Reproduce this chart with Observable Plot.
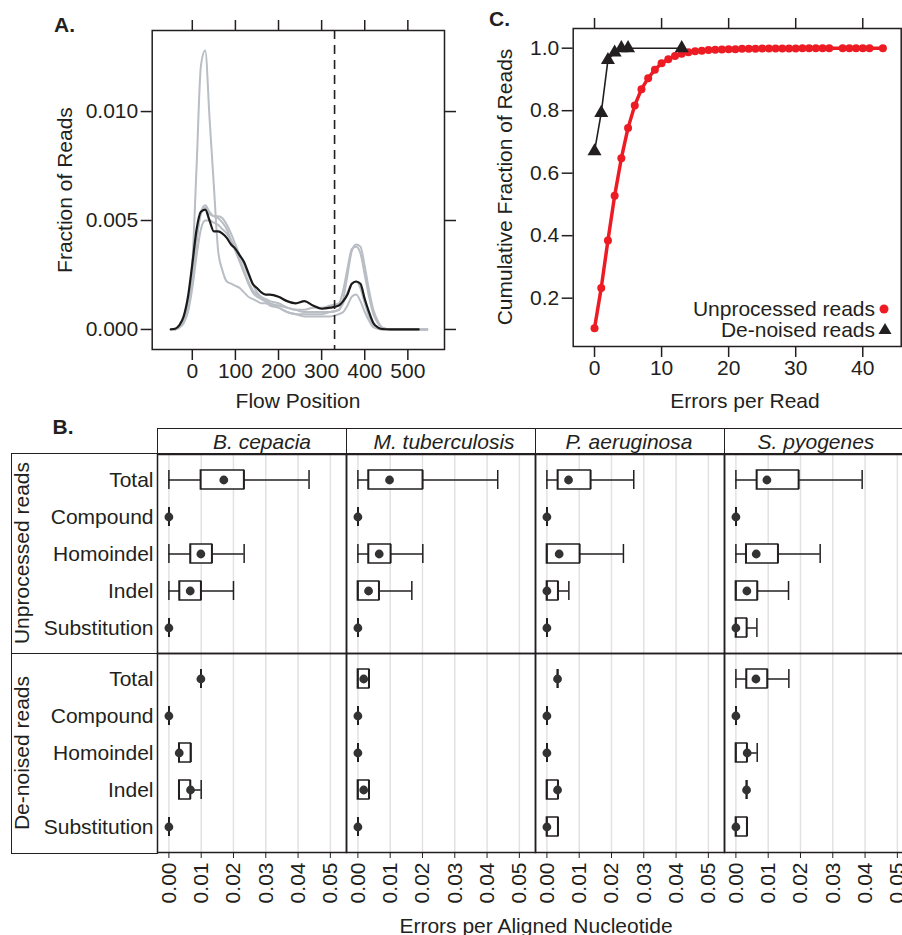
<!DOCTYPE html>
<html><head><meta charset="utf-8">
<script src="https://cdn.jsdelivr.net/npm/d3@7"></script>
<script src="https://cdn.jsdelivr.net/npm/@observablehq/plot@0.6"></script>
<style>
body{margin:0;background:#fff;}
#fig{position:relative;width:902px;height:935px;overflow:hidden;font-family:"Liberation Sans",Arial,sans-serif;color:#231f20;background:#fff;}
.pl{position:absolute;}
.t{position:absolute;font-size:21px;line-height:1;white-space:nowrap;}
.box{position:absolute;box-sizing:border-box;border:1.5px solid #231f20;}
</style>
</head><body><div id="fig"></div>
<script>
// ---------- Panel A data: fraction of reads by flow position ----------
const flowPos = [-50,-40,-30,-20,-10,0,10,20,30,40,50,60,70,80,90,100,110,120,130,140,150,160,170,180,200,220,240,260,280,300,320,340,350,360,370,380,390,400,410,420,430,440,460,500,525,545];
const fracBlack = [0,0.00003,0.0002,0.0006,0.0015,0.0030,0.0046,0.0054,0.0055,0.0050,0.0045,0.0045,0.0044,0.0042,0.0039,0.0037,0.0034,0.0031,0.0026,0.0021,0.0019,0.0017,0.0016,0.0016,0.0015,0.0013,0.0012,0.0013,0.0011,0.00095,0.0010,0.0011,0.0013,0.0016,0.0021,0.0022,0.0021,0.0014,0.0008,0.0003,0.0001,0.00002,0,0,0,NaN];
const fracGray1 = [NaN,0,0.0001,0.0004,0.0012,0.0030,0.0075,0.0121,0.0128,0.0097,0.0066,0.0036,0.0027,0.0022,0.0021,0.0020,0.0019,0.0017,0.0015,0.0014,0.0013,0.0012,0.0012,0.0011,0.0010,0.0008,0.0007,0.0006,0.0006,0.0006,0.0006,0.0007,0.0008,0.0011,0.0015,0.0016,0.0013,0.0008,0.0004,0.0001,0.00003,0,0,0,0,0];
const fracGray2 = [NaN,0,0.0001,0.0003,0.0009,0.0022,0.0040,0.0054,0.0057,0.0054,0.0052,0.0052,0.0051,0.0048,0.0044,0.0039,0.0034,0.0030,0.0025,0.0021,0.0017,0.0015,0.0014,0.0013,0.0012,0.0010,0.0009,0.0008,0.0008,0.0008,0.0008,0.0009,0.0014,0.0025,0.0036,0.0039,0.0038,0.0029,0.0018,0.0009,0.0004,0.0001,0,0,0,0];
const fracGray3 = [NaN,0,0.0001,0.0004,0.0010,0.0024,0.0042,0.0053,0.0056,0.0053,0.0052,0.0051,0.0049,0.0046,0.0041,0.0036,0.0031,0.0026,0.0021,0.0017,0.0015,0.0014,0.0013,0.0012,0.0011,0.0010,0.0009,0.0009,0.0010,0.0010,0.0011,0.0012,0.0018,0.0028,0.0037,0.0038,0.0035,0.0025,0.0015,0.0007,0.0003,0.0001,0,0,0,0];
const fracGray4 = [NaN,0,0.0001,0.0003,0.0008,0.0019,0.0034,0.0046,0.0050,0.0050,0.0049,0.0048,0.0046,0.0044,0.0041,0.0037,0.0032,0.0027,0.0022,0.0018,0.0016,0.0014,0.0013,0.0012,0.0010,0.0008,0.0007,0.0007,0.0007,0.0007,0.0008,0.0009,0.0012,0.0017,0.0021,0.0022,0.0019,0.0012,0.0006,0.0002,0.0001,0,0,0,0,0];
const flowCutoff = 330;
const flowTicks = [0,100,200,300,400,500];
const fracTicks = [0,0.005,0.010];

// ---------- Panel C data: cumulative fraction of reads ----------
const errorsUnproc = [0,1,2,3,4,5,6,7,8,9,10,11,12,13,14,15,16,17,18,19,20,21,22,23,24,25,26,27,28,29,30,31,32,33,34,35,37,38,39,40,41,43];
const cumUnproc = [0.104,0.233,0.385,0.528,0.648,0.745,0.817,0.869,0.904,0.931,0.952,0.965,0.975,0.982,0.987,0.990,0.992,0.994,0.995,0.996,0.997,0.997,0.998,0.998,0.998,0.999,0.999,0.999,0.999,0.999,0.999,1,1,1,1,1,1,1,1,1,1,1];
const errorsDenoised = [0,1,2,3,4,5,13];
const cumDenoised = [0.670,0.793,0.962,0.986,1.0,1.0,1.0];
const errorTicksC = [0,10,20,30,40];
const cumTicks = [0.2,0.4,0.6,0.8,1.0];

// ---------- Panel B data: errors per aligned nucleotide ----------
const species = ["B. cepacia","M. tuberculosis","P. aeruginosa","S. pyogenes"];
const readTypes = ["Unprocessed reads","De-noised reads"];
const errorTypes = ["Total","Compound","Homoindel","Indel","Substitution"];
// rows follow errorTypes; each is [lower whisker, Q1, median, Q3, upper whisker]
const unprocBCep = [[0,0.0099,0.0170,0.0233,0.0434],[0,0,0,0,0],[0,0.0067,0.0099,0.0134,0.0233],[0,0.0033,0.0066,0.0100,0.0200],[0,0,0,0,0]];
const unprocMTub = [[0,0.0033,0.0098,0.0201,0.0433],[0,0,0,0,0],[0,0.0033,0.0066,0.0102,0.0201],[0,0,0.0033,0.0066,0.0167],[0,0,0,0,0]];
const unprocPAer = [[0,0.0034,0.0067,0.0136,0.0269],[0,0,0,0,0],[0,0,0.0038,0.0102,0.0237],[0,0,0,0.0035,0.0068],[0,0,0,0,0]];
const unprocSPyo = [[0,0.0065,0.0096,0.0195,0.0391],[0,0,0,0,0],[0,0.0032,0.0063,0.0131,0.0261],[0,0,0.0034,0.0067,0.0163],[0,0,0,0.0034,0.0065]];
const denoisBCep = [[0.0099,0.0099,0.0099,0.0099,0.0099],[0,0,0,0,0],[0.0032,0.0032,0.0032,0.0068,0.0068],[0.0032,0.0032,0.0067,0.0067,0.0100],[0,0,0,0,0]];
const denoisMTub = [[0,0,0.0018,0.0035,0.0035],[0,0,0,0,0],[0,0,0,0,0],[0,0,0.0018,0.0035,0.0035],[0,0,0,0,0]];
const denoisPAer = [[0.0033,0.0033,0.0033,0.0033,0.0033],[0,0,0,0,0],[0,0,0,0,0],[0,0,0.0033,0.0035,0.0035],[0,0,0,0.0035,0.0035]];
const denoisSPyo = [[0,0.0033,0.0062,0.0098,0.0164],[0,0,0,0,0],[0,0,0.0035,0.0035,0.0066],[0.0033,0.0033,0.0033,0.0033,0.0033],[0,0,0,0.0035,0.0035]];
const nucTicks = [0,0.01,0.02,0.03,0.04,0.05];

// ---------- build tables ----------
const seriesA = [["g1",fracGray1],["g2",fracGray2],["g3",fracGray3],["g4",fracGray4]];
const grayRows = seriesA.flatMap(([s, arr]) => flowPos.map((p, i) => ({series: s, pos: p, frac: arr[i]})));
const blackRows = flowPos.map((p, i) => ({pos: p, frac: fracBlack[i]}));
const unprocRows = errorsUnproc.map((e, i) => ({e, c: cumUnproc[i]}));
const denoisRows = errorsDenoised.map((e, i) => ({e, c: cumDenoised[i]}));
const statsTable = [[unprocBCep, unprocMTub, unprocPAer, unprocSPyo],[denoisBCep, denoisMTub, denoisPAer, denoisSPyo]];
const boxRows = [];
readTypes.forEach((rt, ri) => species.forEach((sp, si) => errorTypes.forEach((et, ei) => {
  const [lo, q1, med, q3, hi] = statsTable[ri][si][ei];
  boxRows.push({read: rt, species: sp, etype: et, lo, q1, med, q3, hi});
})));

const INK = "#231f20";
const baseStyle = {background: "transparent", overflow: "visible", fontSize: "21px", fontFamily: "'Liberation Sans', Arial, sans-serif", color: INK, maxWidth: "none"};
const fig = document.getElementById("fig");
function place(el, left, top) { const d = document.createElement("div"); d.className = "pl"; d.style.left = left + "px"; d.style.top = top + "px"; d.appendChild(el); fig.appendChild(d); }
function text(str, x, y, opts = {}) {
  const d = document.createElement("div"); d.className = "t"; d.textContent = str;
  d.style.left = x + "px"; d.style.top = y + "px";
  const tx = opts.align === "right" ? "-100%" : "-50%";
  d.style.transform = `translate(${tx},-50%)` + (opts.rotate ? ` rotate(${opts.rotate}deg)` : "");
  if (opts.bold) d.style.fontWeight = "bold";
  if (opts.italic) d.style.fontStyle = "italic";
  fig.appendChild(d); return d;
}
function box(l, t, w, h) { const d = document.createElement("div"); d.className = "box"; Object.assign(d.style, {left: l + "px", top: t + "px", width: w + "px", height: h + "px"}); fig.appendChild(d); }

// ---------- Panel A ----------
const plotA = Plot.plot({
  width: 460, height: 415, marginLeft: 151.7, marginRight: 16, marginTop: 30, marginBottom: 66,
  style: baseStyle,
  x: {domain: [-93, 585]},
  y: {domain: [-0.00092, 0.01372]},
  marks: [
    Plot.line(grayRows, {x: "pos", y: "frac", z: "series", stroke: "#b9bdc4", strokeWidth: 2, curve: "monotone-x"}),
    Plot.line(blackRows, {x: "pos", y: "frac", stroke: "#1a1a1a", strokeWidth: 2.2, curve: "monotone-x"}),
    Plot.ruleX([flowCutoff], {stroke: INK, strokeWidth: 1.6, strokeDasharray: "9,6"}),
    Plot.frame({stroke: INK, strokeWidth: 1.5}),
    Plot.axisX(flowTicks, {anchor: "bottom", tickSize: 11, tickPadding: 3, label: null, strokeWidth: 1.5}),
    Plot.axisX(flowTicks, {anchor: "top", tickSize: 11, tickFormat: () => "", label: null, strokeWidth: 1.5}),
    Plot.axisY(fracTicks, {anchor: "left", tickSize: 11, tickPadding: 3, tickFormat: d3.format(".3f"), label: null, strokeWidth: 1.5}),
    Plot.axisY(fracTicks, {anchor: "right", tickSize: 11, tickFormat: () => "", label: null, strokeWidth: 1.5})
  ]
});
place(plotA, 0, 0);

// ---------- Panel C ----------
const RED = "#ed1c24";
const plotC = Plot.plot({
  width: 442, height: 415, marginLeft: 112.7, marginRight: 1.3, marginTop: 28, marginBottom: 69,
  style: baseStyle,
  x: {domain: [-3.18, 45.73]},
  y: {domain: [0.0454, 1.063]},
  marks: [
    Plot.frame({stroke: INK, strokeWidth: 1.5}),
    Plot.line(unprocRows, {x: "e", y: "c", stroke: RED, strokeWidth: 3.5}),
    Plot.dot(unprocRows, {x: "e", y: "c", fill: RED, r: 4}),
    Plot.line(denoisRows, {x: "e", y: "c", stroke: INK, strokeWidth: 1.6}),
    Plot.dot(denoisRows, {x: "e", y: "c", symbol: "triangle", fill: INK, r: 5.2}),
    Plot.axisX(errorTicksC, {anchor: "bottom", tickSize: 11, tickPadding: 3, label: null, strokeWidth: 1.5}),
    Plot.axisX(errorTicksC, {anchor: "top", tickSize: 11, tickFormat: () => "", label: null, strokeWidth: 1.5}),
    Plot.axisY(cumTicks, {anchor: "left", tickSize: 11, tickPadding: 3, tickFormat: d3.format(".1f"), label: null, strokeWidth: 1.5})
  ]
});
place(plotC, 460, 0);

// ---------- Panel B ----------
const plotB = Plot.plot({
  width: 913, height: 515, marginLeft: 157, marginRight: 0, marginTop: 33, marginBottom: 82.5,
  style: baseStyle,
  fx: {domain: species, padding: 0, axis: null},
  fy: {domain: readTypes, padding: 0, axis: null},
  x: {domain: [-0.00353, 0.0550], ticks: nucTicks, tickFormat: ".2f", tickRotate: -90, tickSize: 6, tickPadding: 4, label: null},
  y: {domain: errorTypes, paddingInner: 0.5, paddingOuter: 0.37, tickSize: 0, tickPadding: 4, label: null},
  marks: [
    Plot.ruleX(nucTicks, {stroke: "#e2e2e2", strokeWidth: 1.5}),
    Plot.ruleY(boxRows, {fx: "species", fy: "read", y: "etype", x1: "lo", x2: "hi", stroke: INK, strokeWidth: 1.5}),
    Plot.barX(boxRows, {fx: "species", fy: "read", y: "etype", x1: "q1", x2: "q3", fill: "white", stroke: INK, strokeWidth: 1.5}),
    Plot.tickX(boxRows, {fx: "species", fy: "read", y: "etype", x: "lo", stroke: INK, strokeWidth: 1.5}),
    Plot.tickX(boxRows, {fx: "species", fy: "read", y: "etype", x: "hi", stroke: INK, strokeWidth: 1.5}),
    Plot.tickX(boxRows, {fx: "species", fy: "read", y: "etype", x: "q1", stroke: INK, strokeWidth: 1.5}),
    Plot.tickX(boxRows, {fx: "species", fy: "read", y: "etype", x: "q3", stroke: INK, strokeWidth: 1.5}),
    Plot.dot(boxRows, {fx: "species", fy: "read", y: "etype", x: "med", r: 4.4, fill: "#333"}),
    Plot.frame({stroke: INK, strokeWidth: 1.5})
  ]
});
place(plotB, 0, 420);

// strips and row labels
const stripX = [157, 346, 535, 724];
const stripTextX = [262, 444, 629, 816];
species.forEach((s, i) => { box(stripX[i], 428, 190, 26); text(s, stripTextX[i], 441, {italic: true}); });
box(11, 453, 147, 201); box(11, 653, 147, 200.5);
text(readTypes[0], 21, 553, {rotate: -90});
text(readTypes[1], 21, 752.5, {rotate: -90});

// titles and panel letters
text("A.", 64.5, 24, {bold: true});
text("B.", 63, 426, {bold: true});
text("C.", 499.5, 18, {bold: true});
text("Fraction of Reads", 63.5, 189.5, {rotate: -90});
text("Flow Position", 298, 400);
text("Cumulative Fraction of Reads", 503.5, 187, {rotate: -90});
text("Errors per Read", 745, 400);
text("Errors per Aligned Nucleotide", 536, 925);

// legend for panel C
text("Unprocessed reads", 875, 307.5, {align: "right"});
text("De-noised reads", 875, 328.5, {align: "right"});
const lg = document.createElementNS("http://www.w3.org/2000/svg", "svg");
lg.setAttribute("width", 30); lg.setAttribute("height", 40);
lg.style.position = "absolute"; lg.style.left = "870px"; lg.style.top = "295px";
lg.innerHTML = `<circle cx="14" cy="14" r="4.5" fill="${RED}"/><path d="M15,28 L21.5,39 L8.5,39 Z" fill="${INK}"/>`;
fig.appendChild(lg);
</script>
</body></html>
